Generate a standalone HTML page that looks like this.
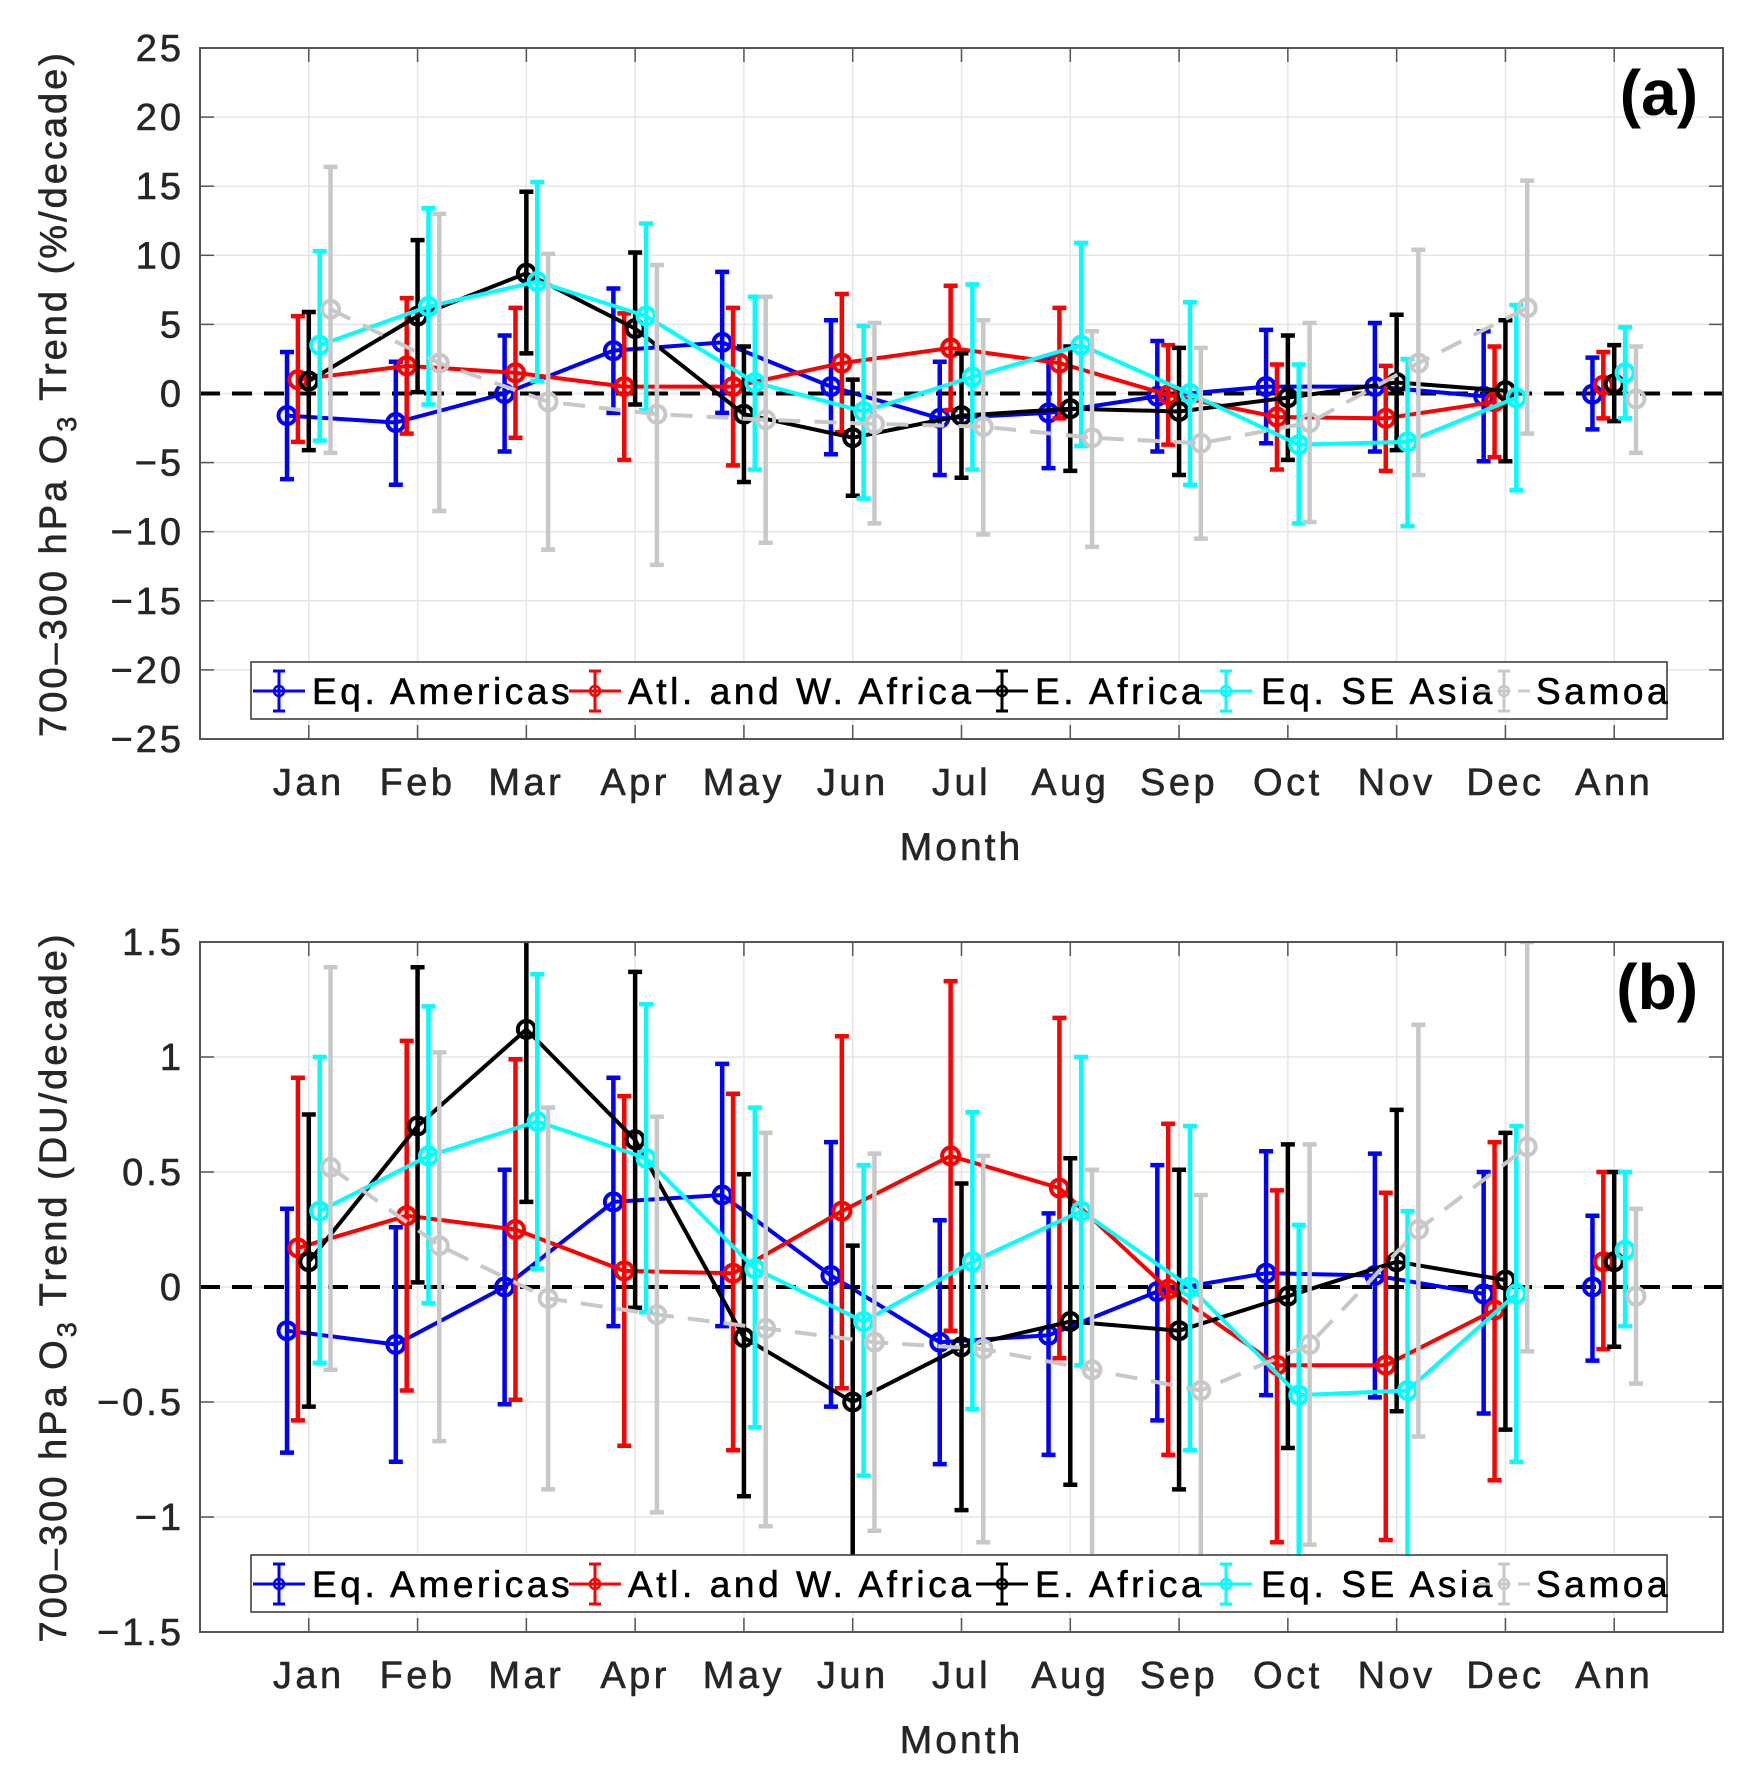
<!DOCTYPE html>
<html><head><meta charset="utf-8"><style>
body{margin:0;background:#fff;}
svg text{font-family:"Liberation Sans","DejaVu Sans",sans-serif;fill:#262626;}
</style></head><body>
<svg id="fig" width="1742" height="1773" xmlns="http://www.w3.org/2000/svg"></svg>
<script>
const months = ["Jan","Feb","Mar","Apr","May","Jun","Jul","Aug","Sep","Oct","Nov","Dec","Ann"];
const seriesNames = ["Eq. Americas","Atl. and W. Africa","E. Africa","Eq. SE Asia","Samoa"];
// Panel a (%/decade)
const aBlue = [-1.6,-2.1,0,3.1,3.7,0.5,-1.8,-1.4,-0.2,0.5,0.5,-0.2,-0.05];
const aBlueLo = [-6.2,-6.6,-4.2,-1.4,-1.4,-4.4,-5.9,-5.4,-4.2,-3.6,-4.2,-4.9,-2.6];
const aBlueHi = [3.0,2.3,4.2,7.6,8.8,5.3,2.3,2.6,3.8,4.6,5.1,4.5,2.6];
const aRed = [1.0,2.0,1.5,0.5,0.5,2.2,3.3,2.2,-0.1,-1.7,-1.8,-0.6,0.6];
const aRedLo = [-3.5,-2.9,-3.2,-4.8,-5.2,-2.8,-1.2,-1.8,-3.7,-5.5,-5.6,-4.6,-1.8];
const aRedHi = [5.6,6.9,6.2,5.8,6.2,7.2,7.8,6.2,3.5,2.1,2.0,3.4,3.0];
const aBlack = [0.9,5.6,8.7,4.7,-1.5,-3.2,-1.6,-1.1,-1.3,-0.3,0.8,0.2,0.7];
const aBlackLo = [-4.1,0.1,2.9,-0.8,-6.4,-7.4,-6.1,-5.6,-5.9,-4.8,-4.1,-4.9,-2.0];
const aBlackHi = [5.9,11.1,14.6,10.2,3.4,1.0,2.9,3.4,3.3,4.2,5.7,5.3,3.5];
const aCyan = [3.5,6.3,8.1,5.6,0.8,-1.3,1.2,3.5,0,-3.7,-3.5,-0.3,1.5];
const aCyanLo = [-3.4,-0.8,0.9,-1.2,-5.5,-7.6,-5.5,-3.8,-6.6,-9.4,-9.6,-7.0,-1.8];
const aCyanHi = [10.3,13.4,15.3,12.3,7.0,4.9,7.9,10.9,6.6,2.1,2.5,6.4,4.8];
const aGray = [6.1,2.2,-0.6,-1.5,-1.9,-2.2,-2.4,-3.2,-3.6,-2.1,2.2,6.2,-0.4];
const aGrayLo = [-4.3,-8.5,-11.3,-12.4,-10.8,-9.4,-10.2,-11.1,-10.5,-9.3,-5.9,-2.9,-4.3];
const aGrayHi = [16.4,13.0,10.1,9.3,7.0,5.1,5.3,4.5,3.3,5.1,10.4,15.4,3.4];
const aTicks = [-25,-20,-15,-10,-5,0,5,10,15,20,25];
// Panel b (DU/decade)
const bBlue = [-0.19,-0.25,0,0.37,0.40,0.05,-0.24,-0.21,-0.02,0.06,0.05,-0.03,0];
const bBlueLo = [-0.72,-0.76,-0.51,-0.17,-0.17,-0.52,-0.77,-0.73,-0.58,-0.47,-0.48,-0.55,-0.32];
const bBlueHi = [0.34,0.26,0.51,0.91,0.97,0.63,0.29,0.32,0.53,0.59,0.58,0.50,0.31];
const bRed = [0.17,0.31,0.25,0.07,0.06,0.33,0.57,0.43,-0.01,-0.34,-0.34,-0.10,0.11];
const bRedLo = [-0.58,-0.45,-0.49,-0.69,-0.71,-0.44,-0.19,-0.31,-0.73,-1.11,-1.10,-0.84,-0.27];
const bRedHi = [0.91,1.07,0.99,0.83,0.84,1.09,1.33,1.17,0.71,0.42,0.41,0.63,0.50];
const bBlack = [0.11,0.70,1.12,0.64,-0.22,-0.50,-0.26,-0.15,-0.19,-0.04,0.11,0.03,0.11];
const bBlackLo = [-0.52,0.02,0.37,-0.09,-0.91,-1.18,-0.97,-0.86,-0.88,-0.70,-0.54,-0.62,-0.26];
const bBlackHi = [0.75,1.39,1.87,1.37,0.49,0.18,0.45,0.56,0.51,0.62,0.77,0.67,0.50];
const bCyan = [0.33,0.57,0.72,0.56,0.08,-0.15,0.11,0.33,0,-0.47,-0.45,-0.03,0.16];
const bCyanLo = [-0.33,-0.07,0.08,-0.11,-0.61,-0.82,-0.53,-0.34,-0.71,-1.2,-1.2,-0.76,-0.17];
const bCyanHi = [1.00,1.22,1.36,1.23,0.78,0.53,0.76,1.00,0.70,0.27,0.33,0.70,0.50];
const bGray = [0.52,0.18,-0.05,-0.12,-0.18,-0.24,-0.27,-0.36,-0.45,-0.25,0.25,0.61,-0.04];
const bGrayLo = [-0.36,-0.67,-0.88,-0.98,-1.04,-1.06,-1.11,-1.2,-1.3,-1.12,-0.65,-0.28,-0.42];
const bGrayHi = [1.39,1.02,0.78,0.74,0.67,0.58,0.57,0.51,0.40,0.62,1.14,1.5,0.34];
const bTicks = [-1.5,-1,-0.5,0,0.5,1,1.5];
const bTickLabels = ["\u22121.5","\u22121","\u22120.5","0","0.5","1","1.5"];

const NS="http://www.w3.org/2000/svg";
const svg=document.getElementById('fig');
function mk(tag,attrs,parent){const e=document.createElementNS(NS,tag);for(const k in attrs)e.setAttribute(k,attrs[k]);(parent||svg).appendChild(e);return e;}
const colors=["#0000ff","#ff0000","#000000","#00ffff","#c8c8c8"];
const offsets=[-0.2,-0.1,0,0.1,0.2];
const X0=200,X1=1723;
function xs(v){return X0+(v/14)*(X1-X0);}

function panel(id,top,bot,ymin,ymax,ticks,tickLabels,data,ylab,tag){
  const ys=v=>bot-(v-ymin)/(ymax-ymin)*(bot-top);
  const g=mk('g',{});
  
  
  for(let i=1;i<=13;i++){const l=mk('line',{x1:xs(i),x2:xs(i),y1:top,y2:bot,stroke:'#e6e6e6','stroke-width':1.5},g);
    }
  ticks.forEach((t,i)=>{const l=mk('line',{x1:X0,x2:X1,y1:ys(t),y2:ys(t),stroke:'#e6e6e6','stroke-width':1.5},g);
    
    mk('line',{x1:X0,x2:X0+14,y1:ys(t),y2:ys(t),stroke:'#555','stroke-width':1.5},g);
    mk('line',{x1:X1,x2:X1-14,y1:ys(t),y2:ys(t),stroke:'#555','stroke-width':1.5},g);
    const tx=mk('text',{x:184,y:ys(t)+13,'text-anchor':'end','font-size':38,'letter-spacing':3,'stroke':'#262626','stroke-width':0.6},g);
    tx.textContent=tickLabels[i];
    });
  for(let i=1;i<=13;i++){
    mk('line',{x1:xs(i),x2:xs(i),y1:bot,y2:bot-14,stroke:'#555','stroke-width':1.5},g);
    mk('line',{x1:xs(i),x2:xs(i),y1:top,y2:top+14,stroke:'#555','stroke-width':1.5},g);
    const tx=mk('text',{x:xs(i),y:bot+56,'text-anchor':'middle','font-size':38,'letter-spacing':3.5,'stroke':'#262626','stroke-width':0.6},g);
    tx.textContent=months[i-1];
    }
  const z=mk('line',{x1:X0,x2:X1,y1:ys(0),y2:ys(0),stroke:'#000','stroke-width':4,'stroke-dasharray':'20,12'},g);
  
  const clipId='clip'+id;
  const cp=mk('clipPath',{id:clipId},g);mk('rect',{x:X0,y:top,width:X1-X0,height:bot-top},cp);
  const sg=mk('g',{'clip-path':'url(#'+clipId+')'},g);
  data.forEach((s,si)=>{
    const [vals,lo,hi]=s;const c=colors[si];const dash=si===4?'22,14':'none';
    const pts=[];for(let i=0;i<12;i++)pts.push(xs(i+1+offsets[si])+','+ys(vals[i]));
    const pl=mk('polyline',{points:pts.join(' '),fill:'none',stroke:c,'stroke-width':4,'stroke-dasharray':dash},sg);
    
    
    for(let i=0;i<13;i++){
      const x=xs(i+1+offsets[si]);
      const eb=mk('path',{d:`M${x},${ys(lo[i])}V${ys(hi[i])}M${x-7},${ys(lo[i])}H${x+7}M${x-7},${ys(hi[i])}H${x+7}`,stroke:c,'stroke-width':4.5,fill:'none'},sg);
      
      const m=mk('circle',{cx:x,cy:ys(vals[i]),r:8.5,fill:'none',stroke:c,'stroke-width':4},sg);
      
    }
  });
  const bx=mk('rect',{x:X0,y:top,width:X1-X0,height:bot-top,fill:'none',stroke:'#555','stroke-width':2},g);
  
  const ly=bot-48;
  const lg=mk('g',{},g);
  
  mk('rect',{x:251,y:ly-29,width:1416,height:57,fill:'#fff',stroke:'#333','stroke-width':1.5},lg);
  const sx=[253,569,976,1200,1478];const tx=[312,628,1035,1261,1536];
  seriesNames.forEach((n,si)=>{
    const c=colors[si];const e=mk('g',{},lg);
    
    mk('line',{x1:sx[si],x2:sx[si]+52,y1:ly,y2:ly,stroke:c,'stroke-width':3,'stroke-dasharray':si===4?'12,8':'none'},e);
    const mx=sx[si]+26;
    mk('path',{d:`M${mx},${ly-20}V${ly+20}M${mx-6},${ly-20}H${mx+6}M${mx-6},${ly+20}H${mx+6}`,stroke:c,'stroke-width':3},e);
    mk('circle',{cx:mx,cy:ly,r:5,fill:'none',stroke:c,'stroke-width':2.5},e);
    const t=mk('text',{x:tx[si],y:ly+13,'font-size':37,'letter-spacing':3.6,'stroke':'#000','stroke-width':0.6},e);t.textContent=n;t.style.fill='#000';
  });
  const pt=mk('text',{x:1698,y:top+67,'text-anchor':'end','font-size':64,'font-weight':'bold'},g);
  pt.textContent=tag;pt.style.fill='#000';
  
  const xl=mk('text',{x:(X0+X1)/2,y:bot+121,'text-anchor':'middle','font-size':39,'letter-spacing':3,'stroke':'#262626','stroke-width':0.6},g);
  xl.textContent='Month';
  const cy=(top+bot)/2;
  const yl=mk('text',{x:0,y:0,'text-anchor':'middle','font-size':38,'letter-spacing':3,'stroke':'#262626','stroke-width':0.6,transform:`translate(66,${cy}) rotate(-90)`},g);
  yl.innerHTML='700\u2013300 hPa O<tspan font-size="27" dy="10">3</tspan><tspan dy="-10"> Trend '+ylab+'</tspan>';
  
}
const aLabels=aTicks.map(t=>t<0?'\u2212'+(-t):''+t);
panel('a',48,739,-25,25,aTicks,aLabels,
 [[aBlue,aBlueLo,aBlueHi],[aRed,aRedLo,aRedHi],[aBlack,aBlackLo,aBlackHi],[aCyan,aCyanLo,aCyanHi],[aGray,aGrayLo,aGrayHi]],
 '(%/decade)','(a)');
panel('b',942,1632,-1.5,1.5,bTicks,bTickLabels,
 [[bBlue,bBlueLo,bBlueHi],[bRed,bRedLo,bRedHi],[bBlack,bBlackLo,bBlackHi],[bCyan,bCyanLo,bCyanHi],[bGray,bGrayLo,bGrayHi]],
 '(DU/decade)','(b)');
</script>
</body></html>
